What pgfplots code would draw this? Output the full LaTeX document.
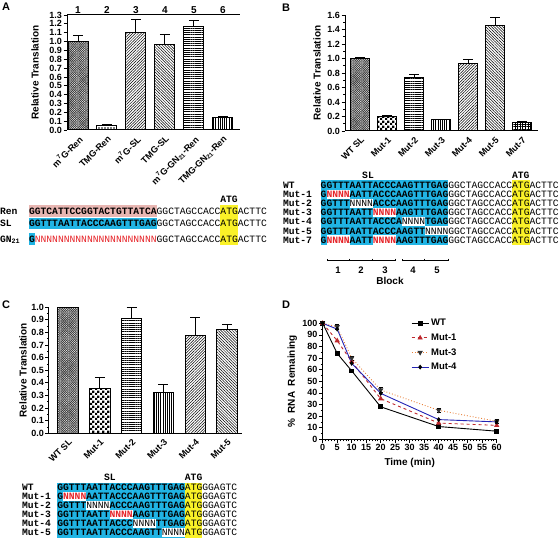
\documentclass[border=0pt]{standalone}
\usepackage{fontspec}
\setmainfont{Liberation Sans}
\newfontfamily\seqfont{Liberation Mono}
\usepackage{pgfplots}
\pgfplotsset{compat=1.18}
\usetikzlibrary{patterns,patterns.meta,arrows.meta}
\definecolor{sblue}{RGB}{32,180,228}
\definecolor{spink}{RGB}{232,182,178}
\definecolor{syel}{RGB}{250,242,40}
\definecolor{sred}{RGB}{230,35,40}
\definecolor{dred}{RGB}{190,40,45}
\definecolor{dorange}{RGB}{232,130,60}
\definecolor{dblue}{RGB}{35,35,180}
\pgfdeclarepatternformonly{smallcheck}{\pgfpointorigin}{\pgfpoint{5pt}{5pt}}{\pgfpoint{5pt}{5pt}}{%
  \pgfpathrectangle{\pgfpointorigin}{\pgfpoint{2.5pt}{2.5pt}}%
  \pgfpathrectangle{\pgfpoint{2.5pt}{2.5pt}}{\pgfpoint{2.5pt}{2.5pt}}%
  \pgfusepath{fill}}
\newcommand{\R}[1]{\textcolor{sred}{#1}}
\pgfplotsset{
 barax/.style={scale only axis, anchor=south west,
  axis x line*=bottom, axis y line*=left, axis line style={line width=1pt,-},
  ymin=0, ybar, bar shift=0pt, tick align=outside,
  major tick length=3.5pt, minor tick length=2pt,
  tick style={black,line width=0.8pt}, xtick style={draw=none},
  tick label style={font=\bfseries\fontsize{9}{10}\selectfont},
  yticklabel style={inner sep=1.5pt,/pgf/number format/.cd,fixed,fixed zerofill,precision=1,assume math mode=true},
  xticklabel style={rotate=45,anchor=north east,inner sep=1pt,font=\bfseries\fontsize{9}{10}\selectfont},
  ylabel={Relative Translation},
  label style={font=\bfseries\fontsize{10}{11}\selectfont},
  clip=false},
 bb/.style={draw=black, line width=1pt},
 eb/.style={error bars/.cd, y dir=plus, y explicit,
   error bar style={line width=1pt,black},
   error mark options={rotate=90,mark size=5pt,line width=1pt,black}},
 pdark/.style={pattern={Hatch[angle=45,distance=1.6pt,line width=0.6pt]}, pattern color=black!75},
 pcheck/.style={pattern=smallcheck},
 pdots/.style={pattern={Dots[distance=3pt,radius=0.8pt]}},
 phor/.style={pattern={Lines[angle=0,distance=2.2pt,line width=0.5pt]}},
 pver/.style={pattern={Lines[angle=90,distance=2.2pt,line width=0.5pt]}},
 pne/.style={pattern={Lines[angle=45,distance=2pt,line width=0.5pt]}},
 pnw/.style={pattern={Lines[angle=-45,distance=2pt,line width=0.5pt]}},
 pgrid/.style={pattern={Hatch[angle=0,distance=2.6pt,line width=0.45pt]}},
}
\tikzset{seq/.style={anchor=base west, inner sep=0pt, outer sep=0pt, font=\seqfont\fontsize{9.67}{10}\selectfont},
 seqb/.style={anchor=center, inner sep=0pt, font=\seqfont\bfseries\fontsize{9.67}{10}\selectfont},
 plab/.style={font=\bfseries\fontsize{11}{12}\selectfont, inner sep=0pt}}
\begin{document}
\begin{tikzpicture}
\path[use as bounding box] (0pt,0pt) rectangle (560pt,-545pt);

% ---------------- Panel A ----------------
\begin{axis}[barax, at={(67pt,-130pt)}, width=173pt, height=115pt,
  xmin=-0.38, xmax=5.59, ymax=1.3, bar width=20pt,
  ytick={0,0.1,...,1.3}, xtick={0,...,5},
  xticklabels={m\textsuperscript{7}G-Ren,TMG-Ren,m\textsuperscript{7}G-SL,TMG-SL,m\textsuperscript{7}G-GN\textsubscript{21}-Ren,TMG-GN\textsubscript{21}-Ren},
  ylabel style={at={(axis description cs:-0.185,0.5)},anchor=center}]
\addplot[bb,pdark,eb] coordinates {(0,1.00) +- (0,0.07)};
\addplot[bb,pdots,eb] coordinates {(1,0.055) +- (0,0.01)};
\addplot[bb,pne,eb] coordinates {(2,1.10) +- (0,0.15)};
\addplot[bb,pnw,eb] coordinates {(3,0.97) +- (0,0.11)};
\addplot[bb,phor,eb] coordinates {(4,1.17) +- (0,0.07)};
\addplot[bb,pver,eb] coordinates {(5,0.14) +- (0,0.01)};
\draw[line width=1pt] (rel axis cs:0,1) -- (rel axis cs:1,1);
\node[anchor=south,inner sep=1pt,font=\bfseries\fontsize{10}{11}\selectfont] at (axis cs:0,1.3) {1};
\node[anchor=south,inner sep=1pt,font=\bfseries\fontsize{10}{11}\selectfont] at (axis cs:1,1.3) {2};
\node[anchor=south,inner sep=1pt,font=\bfseries\fontsize{10}{11}\selectfont] at (axis cs:2,1.3) {3};
\node[anchor=south,inner sep=1pt,font=\bfseries\fontsize{10}{11}\selectfont] at (axis cs:3,1.3) {4};
\node[anchor=south,inner sep=1pt,font=\bfseries\fontsize{10}{11}\selectfont] at (axis cs:4,1.3) {5};
\node[anchor=south,inner sep=1pt,font=\bfseries\fontsize{10}{11}\selectfont] at (axis cs:5,1.3) {6};
\end{axis}

% ---------------- Panel B ----------------
\begin{axis}[barax, at={(345pt,-131pt)}, width=193pt, height=116pt,
  xmin=-0.57, xmax=6.59, ymax=1.6, bar width=19pt,
  ytick={0,0.2,...,1.6}, minor y tick num=1, xtick={0,...,6},
  xticklabels={WT SL,Mut-1,Mut-2,Mut-3,Mut-4,Mut-5,Mut-7},
  ylabel style={at={(axis description cs:-0.145,0.5)},anchor=center}]
\addplot[bb,pdark,eb] coordinates {(0,1.00) +- (0,0.02)};
\addplot[bb,pcheck,eb] coordinates {(1,0.20) +- (0,0.01)};
\addplot[bb,phor,eb] coordinates {(2,0.74) +- (0,0.04)};
\addplot[bb,pver,eb] coordinates {(3,0.155) +- (0,0.008)};
\addplot[bb,pne,eb] coordinates {(4,0.93) +- (0,0.05)};
\addplot[bb,pnw,eb] coordinates {(5,1.46) +- (0,0.10)};
\addplot[bb,pgrid,eb] coordinates {(6,0.12) +- (0,0.005)};
\end{axis}

% ---------------- Panel C ----------------
\begin{axis}[barax, at={(49pt,-433.3pt)}, width=193pt, height=126pt,
  xmin=-0.6, xmax=5.47, ymax=1.0, bar width=20.5pt,
  ytick={0,0.1,...,1.0}, minor y tick num=1, xtick={0,...,5},
  xticklabels={WT SL,Mut-1,Mut-2,Mut-3,Mut-4,Mut-5},
  ylabel style={at={(axis description cs:-0.135,0.5)},anchor=center}]
\addplot[bb,pdark] coordinates {(0,1.00)};
\addplot[bb,pcheck,eb] coordinates {(1,0.355) +- (0,0.09)};
\addplot[bb,phor,eb] coordinates {(2,0.91) +- (0,0.09)};
\addplot[bb,pver,eb] coordinates {(3,0.32) +- (0,0.065)};
\addplot[bb,pne,eb] coordinates {(4,0.78) +- (0,0.14)};
\addplot[bb,pnw,eb] coordinates {(5,0.82) +- (0,0.04)};
\end{axis}

% ---------------- Panel D ----------------
\begin{axis}[scale only axis, anchor=south west, at={(322.7pt,-439.3pt)}, width=174pt, height=116pt,
  xmin=0, xmax=60, ymin=0, ymax=100, clip=false,
  axis x line*=bottom, axis y line*=left, axis line style={line width=1pt,-},
  xtick={0,5,...,60}, ytick={0,10,...,100}, minor x tick num=4, minor y tick num=1,
  tick align=outside, major tick length=3.5pt, minor tick length=2pt,
  tick style={black,line width=0.8pt},
  tick label style={font=\bfseries\fontsize{9}{10}\selectfont, inner sep=1.5pt},
  /pgf/number format/assume math mode=true,
  xlabel={Time (min)}, ylabel={\%~~RNA~~Remaining},
  label style={font=\bfseries\fontsize{10}{11}\selectfont},
  xlabel style={at={(axis description cs:0.5,-0.205)},anchor=center},
  ylabel style={at={(axis description cs:-0.175,0.5)},anchor=center},
  legend style={draw=none, fill=none, at={(0.49,1.07)}, anchor=north west,
    font=\bfseries\fontsize{9.5}{11}\selectfont, row sep=2.5pt},
  legend cell align=left]
\addplot[black, line width=0.9pt, mark=square*, mark size=1.9pt] coordinates {(0,100) (5,74) (10,59) (20,28) (40,11) (60,7)};
\addlegendentry{WT}
\addplot[dred, dashed, line width=0.9pt, mark=triangle*, mark size=2.2pt, mark options={solid}] coordinates {(0,100) (5,85) (10,67) (20,35) (40,14) (60,12)};
\addlegendentry{Mut-1}
\addplot[dorange, dotted, line width=0.9pt, mark=triangle*, mark size=2.2pt, mark options={solid,rotate=180,fill=black!80,draw=black!80},
  error bars/.cd, y dir=both, y explicit, error bar style={line width=0.8pt,black,solid}, error mark options={rotate=90,mark size=2pt,black,solid}]
  coordinates {(0,100) +- (0,1) (5,97) +- (0,2.5) (10,70) +- (0,2) (20,42.5) +- (0,2) (40,25) +- (0,1.5) (60,15.5) +- (0,2)};
\addlegendentry{Mut-3}
\addplot[dblue, line width=0.9pt, mark=diamond*, mark size=1.8pt, mark options={fill=black,draw=black}] coordinates {(0,100) (5,95) (10,65.5) (20,39.6) (40,17) (60,15)};
\addlegendentry{Mut-4}
\end{axis}

% ---------------- annotations ----------------
\begin{scope}[x=1pt,y=-1pt]
\node[plab] at (6,7) {A};
\node[plab] at (286,8) {B};
\node[plab] at (6,305) {C};
\node[plab] at (286,305) {D};

% ----- sequences A -----
\fill[spink] (29,205.5) rectangle (156.6,217.2);
\fill[sblue] (29,217.7) rectangle (156.6,228.8);
\fill[sblue] (29,233.3) rectangle (34.8,245);
\fill[syel] (220.4,205.5) rectangle (237.8,245);
\node[seqb] at (229,199.5) {ATG};
\node[seq,font=\seqfont\bfseries\fontsize{9.67}{10}\selectfont] at (0,214.5) {Ren};
\node[seq,font=\seqfont\bfseries\fontsize{9.67}{10}\selectfont] at (0,226.5) {SL};
\node[seq,font=\seqfont\bfseries\fontsize{9.67}{10}\selectfont] at (0,242.5) {GN\textsubscript{21}};
\node[seq] at (29,214.5) {{\bfseries GGTCATTCCGGTACTGTTATCA}GGCTAGCCACCATGACTTC};
\node[seq] at (29,226.5) {{\bfseries GGTTTAATTACCCAAGTTTGAG}GGCTAGCCACCATGACTTC};
\node[seq] at (29,242.5) {{\bfseries G}\R{NNNNNNNNNNNNNNNNNNNNN}GGCTAGCCACCATGACTTC};

% ----- sequences B -----
\fill[sblue] (320.7,180.2) rectangle (448.3,244.6);
\fill[syel] (512.1,180.2) rectangle (529.5,244.6);
\fill[white] ({320.7+1*5.8},{185+9.17*1-4.58}) rectangle ({320.7+5*5.8},{185+9.17*1+4.58});
\fill[white] ({320.7+5*5.8},{185+9.17*2-4.58}) rectangle ({320.7+9*5.8},{185+9.17*2+4.58});
\fill[white] ({320.7+9*5.8},{185+9.17*3-4.58}) rectangle ({320.7+13*5.8},{185+9.17*3+4.58});
\fill[white] ({320.7+14*5.8},{185+9.17*4-4.58}) rectangle ({320.7+18*5.8},{185+9.17*4+4.58});
\fill[white] ({320.7+18*5.8},{185+9.17*5-4.58}) rectangle ({320.7+22*5.8},{185+9.17*5+4.58});
\fill[white] ({320.7+1*5.8},{185+9.17*6-4.58}) rectangle ({320.7+5*5.8},{185+9.17*6+4.58});
\fill[white] ({320.7+9*5.8},{185+9.17*6-4.58}) rectangle ({320.7+13*5.8},{185+9.17*6+4.58});
\node[seqb] at (368,175) {SL};
\node[seqb] at (520.8,175) {ATG};
\begin{scope}[every node/.style={seq,font=\seqfont\bfseries\fontsize{9.67}{10}\selectfont}]
\node at (283,{185+3.3}) {WT};
\node at (283,{185+9.17*1+3.3}) {Mut-1};
\node at (283,{185+9.17*2+3.3}) {Mut-2};
\node at (283,{185+9.17*3+3.3}) {Mut-3};
\node at (283,{185+9.17*4+3.3}) {Mut-4};
\node at (283,{185+9.17*5+3.3}) {Mut-5};
\node at (283,{185+9.17*6+3.3}) {Mut-7};
\end{scope}
\node[seq] at (320.7,{185+3.3}) {{\bfseries GGTTTAATTACCCAAGTTTGAG}GGCTAGCCACCATGACTTC};
\node[seq] at (320.7,{185+9.17*1+3.3}) {{\bfseries G\R{NNNN}AATTACCCAAGTTTGAG}GGCTAGCCACCATGACTTC};
\node[seq] at (320.7,{185+9.17*2+3.3}) {{\bfseries GGTTT}NNNN{\bfseries ACCCAAGTTTGAG}GGCTAGCCACCATGACTTC};
\node[seq] at (320.7,{185+9.17*3+3.3}) {{\bfseries GGTTTAATT\R{NNNN}AAGTTTGAG}GGCTAGCCACCATGACTTC};
\node[seq] at (320.7,{185+9.17*4+3.3}) {{\bfseries GGTTTAATTACCCA}NNNN{\bfseries TGAG}GGCTAGCCACCATGACTTC};
\node[seq] at (320.7,{185+9.17*5+3.3}) {{\bfseries GGTTTAATTACCCAAGTT}NNNNGGCTAGCCACCATGACTTC};
\node[seq] at (320.7,{185+9.17*6+3.3}) {{\bfseries G\R{NNNN}AATT\R{NNNN}AAGTTTGAG}GGCTAGCCACCATGACTTC};
% block scale
\draw[line width=0.7pt,{Bar[width=2.5pt]}-{Bar[width=2.5pt]}] (326.5,260) -- (349.7,260);
\draw[line width=0.7pt,-{Bar[width=2.5pt]}] (349.7,260) -- (372.9,260);
\draw[line width=0.7pt,-{Bar[width=2.5pt]}] (372.9,260) -- (396.1,260);
\draw[line width=0.7pt,{Bar[width=2.5pt]}-{Bar[width=2.5pt]}] (401.9,260) -- (425.1,260);
\draw[line width=0.7pt,-{Bar[width=2.5pt]}] (425.1,260) -- (448.3,260);
\begin{scope}[every node/.style={font=\bfseries\fontsize{9.5}{10}\selectfont,inner sep=0pt}]
\node at (338,270) {1};
\node at (361,270) {2};
\node at (385,270) {3};
\node at (413,270) {4};
\node at (437,270) {5};
\node[font=\bfseries\fontsize{10}{11}\selectfont] at (390,281) {Block};
\end{scope}

% ----- sequences C -----
\fill[sblue] (57.3,482.5) rectangle (184.9,537.5);
\fill[syel] (184.9,482.5) rectangle (202.3,537.5);
\fill[white] ({57.3+1*5.8},{487+9*1-4.5}) rectangle ({57.3+5*5.8},{487+9*1+4.5});
\fill[white] ({57.3+5*5.8},{487+9*2-4.5}) rectangle ({57.3+9*5.8},{487+9*2+4.5});
\fill[white] ({57.3+9*5.8},{487+9*3-4.5}) rectangle ({57.3+13*5.8},{487+9*3+4.5});
\fill[white] ({57.3+13*5.8},{487+9*4-4.5}) rectangle ({57.3+17*5.8},{487+9*4+4.5});
\fill[white] ({57.3+18*5.8},{487+9*5-4.5}) rectangle ({57.3+22*5.8},{487+9*5+4.5});
\node[seqb] at (110,477) {SL};
\node[seqb] at (193.6,477) {ATG};
\begin{scope}[every node/.style={seq,font=\seqfont\bfseries\fontsize{9.67}{10}\selectfont}]
\node at (22,{487+3.3}) {WT};
\node at (22,{487+9*1+3.3}) {Mut-1};
\node at (22,{487+9*2+3.3}) {Mut-2};
\node at (22,{487+9*3+3.3}) {Mut-3};
\node at (22,{487+9*4+3.3}) {Mut-4};
\node at (22,{487+9*5+3.3}) {Mut-5};
\end{scope}
\node[seq] at (57.3,{487+3.3}) {{\bfseries GGTTTAATTACCCAAGTTTGAG}ATGGGAGTC};
\node[seq] at (57.3,{487+9*1+3.3}) {{\bfseries G\R{NNNN}AATTACCCAAGTTTGAG}ATGGGAGTC};
\node[seq] at (57.3,{487+9*2+3.3}) {{\bfseries GGTTT}NNNN{\bfseries ACCCAAGTTTGAG}ATGGGAGTC};
\node[seq] at (57.3,{487+9*3+3.3}) {{\bfseries GGTTTAATT\R{NNNN}AAGTTTGAG}ATGGGAGTC};
\node[seq] at (57.3,{487+9*4+3.3}) {{\bfseries GGTTTAATTACCC}NNNN{\bfseries TTGAG}ATGGGAGTC};
\node[seq] at (57.3,{487+9*5+3.3}) {{\bfseries GGTTTAATTACCCAAGTT}NNNNATGGGAGTC};
\end{scope}
\end{tikzpicture}
\end{document}
